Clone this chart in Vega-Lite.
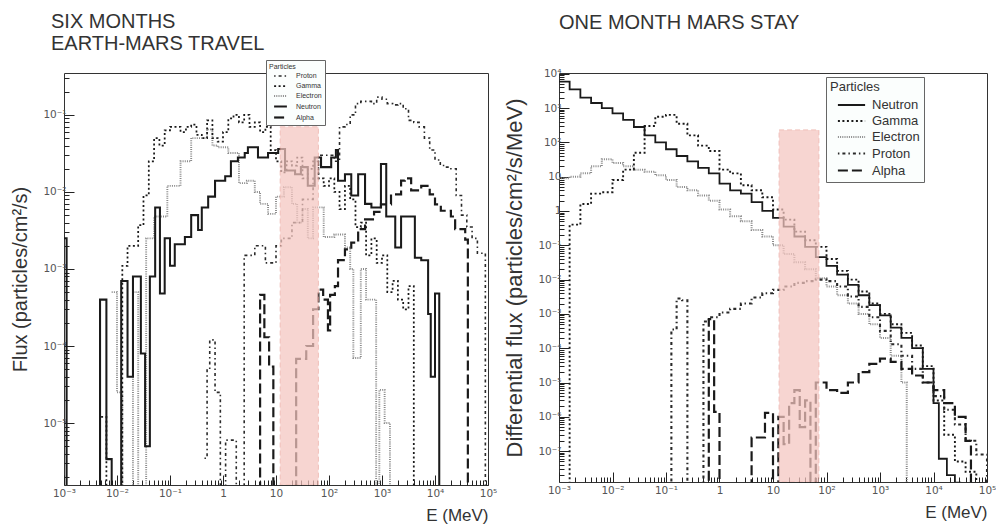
{
  "$schema": "https://vega.github.io/schema/vega-lite/v6.json",
  "padding": {"left": 10, "top": 11, "right": 0, "bottom": 0},
  "config": {
    "font": "Liberation Sans",
    "view": {"stroke": "#333", "strokeWidth": 1},
    "axis": {"grid": false, "domain": false, "tickColor": "#222", "labelColor": "#555", "labelFont": "DejaVu Sans", "labelFontSize": 10.5, "titleFontWeight": "normal", "titleColor": "#333", "labelFlush": false, "labelOverlap": false},
    "title": {"fontSize": 20, "fontWeight": "normal", "color": "#333", "anchor": "start", "frame": "group", "lineHeight": 22},
    "legend": {"titleFontWeight": "normal", "titleColor": "#333", "labelColor": "#333", "strokeColor": "#666", "fillColor": "#fbfefd"}
  },
  "datasets": {
    "left": [
      {"p":"Electron","e":0.00794,"f":5e-4},{"p":"Electron","e":0.01,"f":2.5e-5},{"p":"Electron","e":0.0126,"f":1e-10},{"p":"Electron","e":0.02,"f":5e-4},{"p":"Electron","e":0.0251,"f":1e-10},{"p":"Electron","e":0.0355,"f":2.5e-3},{"p":"Electron","e":0.0501,"f":4.8e-3},{"p":"Electron","e":0.0794,"f":4.8e-3},{"p":"Electron","e":0.0891,"f":1.2e-2},{"p":"Electron","e":0.126,"f":1.2e-2},{"p":"Electron","e":0.158,"f":2.5e-2},{"p":"Electron","e":0.2,"f":2.5e-2},{"p":"Electron","e":0.251,"f":5e-2},{"p":"Electron","e":0.398,"f":5e-2},{"p":"Electron","e":0.501,"f":6.5e-2},{"p":"Electron","e":0.631,"f":4e-2},{"p":"Electron","e":0.794,"f":3.8e-2},{"p":"Electron","e":1.26,"f":3.2e-2},{"p":"Electron","e":2,"f":1.3e-2},{"p":"Electron","e":2.82,"f":1.4e-2},{"p":"Electron","e":3.98,"f":1e-2},{"p":"Electron","e":5.01,"f":7e-3},{"p":"Electron","e":7.08,"f":5.2e-3},{"p":"Electron","e":10,"f":8.7e-3},{"p":"Electron","e":14.1,"f":1.15e-2},{"p":"Electron","e":20,"f":7e-3},{"p":"Electron","e":25.1,"f":4e-3},{"p":"Electron","e":31.6,"f":6e-3},{"p":"Electron","e":39.8,"f":2.5e-3},{"p":"Electron","e":50.1,"f":6.3e-3},{"p":"Electron","e":79.4,"f":2.6e-3},{"p":"Electron","e":126,"f":2.8e-3},{"p":"Electron","e":200,"f":1.9e-3},{"p":"Electron","e":251,"f":1e-3},{"p":"Electron","e":288,"f":7e-5},{"p":"Electron","e":398,"f":1e-3},{"p":"Electron","e":501,"f":4e-4},{"p":"Electron","e":776,"f":1e-10},{"p":"Electron","e":891,"f":2.7e-5},{"p":"Electron","e":1122,"f":1e-5},{"p":"Electron","e":1413,"f":1e-10},
      {"p":"Neutron","e":0.001,"f":2.5e-3},{"p":"Neutron","e":0.00112,"f":1e-10},{"p":"Neutron","e":0.00479,"f":4e-4},{"p":"Neutron","e":0.00631,"f":3.4e-6},{"p":"Neutron","e":0.00794,"f":1e-10},{"p":"Neutron","e":0.012,"f":7e-4},{"p":"Neutron","e":0.0158,"f":4e-5},{"p":"Neutron","e":0.02,"f":8e-4},{"p":"Neutron","e":0.0282,"f":8e-5},{"p":"Neutron","e":0.0339,"f":5e-6},{"p":"Neutron","e":0.0417,"f":8e-4},{"p":"Neutron","e":0.0525,"f":6.3e-3},{"p":"Neutron","e":0.0646,"f":4.8e-4},{"p":"Neutron","e":0.0794,"f":2.5e-3},{"p":"Neutron","e":0.1,"f":1.1e-3},{"p":"Neutron","e":0.123,"f":2.1e-3},{"p":"Neutron","e":0.191,"f":2.6e-3},{"p":"Neutron","e":0.251,"f":5e-3},{"p":"Neutron","e":0.339,"f":3.2e-3},{"p":"Neutron","e":0.398,"f":6.3e-3},{"p":"Neutron","e":0.525,"f":8.7e-3},{"p":"Neutron","e":0.708,"f":1.4e-2},{"p":"Neutron","e":1.1,"f":1.6e-2},{"p":"Neutron","e":1.41,"f":2.5e-2},{"p":"Neutron","e":1.91,"f":2.8e-2},{"p":"Neutron","e":2.57,"f":3.2e-2},{"p":"Neutron","e":2.95,"f":3.8e-2},{"p":"Neutron","e":4.57,"f":2.8e-2},{"p":"Neutron","e":7.08,"f":3.2e-2},{"p":"Neutron","e":11,"f":3.6e-2},{"p":"Neutron","e":14.8,"f":1.9e-2},{"p":"Neutron","e":22.9,"f":1.7e-2},{"p":"Neutron","e":29.5,"f":2.1e-2},{"p":"Neutron","e":39.8,"f":1.2e-2},{"p":"Neutron","e":53.7,"f":2.8e-2},{"p":"Neutron","e":70.8,"f":2.1e-2},{"p":"Neutron","e":110,"f":2.8e-2},{"p":"Neutron","e":135,"f":3.5e-2},{"p":"Neutron","e":148,"f":1.4e-2},{"p":"Neutron","e":200,"f":1.7e-2},{"p":"Neutron","e":263,"f":9e-3},{"p":"Neutron","e":355,"f":1.7e-2},{"p":"Neutron","e":479,"f":7e-3},{"p":"Neutron","e":631,"f":6.3e-3},{"p":"Neutron","e":955,"f":2.3e-2},{"p":"Neutron","e":1202,"f":4.8e-3},{"p":"Neutron","e":1778,"f":1.9e-3},{"p":"Neutron","e":2291,"f":4.8e-3},{"p":"Neutron","e":4169,"f":1.4e-3},{"p":"Neutron","e":5495,"f":1.3e-3},{"p":"Neutron","e":7413,"f":2.6e-4},{"p":"Neutron","e":8318,"f":4e-5},{"p":"Neutron","e":10000,"f":4.8e-4},{"p":"Neutron","e":12023,"f":1e-10},
      {"p":"Gamma","e":0.00501,"f":1.2e-5},{"p":"Gamma","e":0.00631,"f":1e-10},{"p":"Gamma","e":0.0126,"f":1.1e-3},{"p":"Gamma","e":0.0158,"f":2e-3},{"p":"Gamma","e":0.0251,"f":3.7e-3},{"p":"Gamma","e":0.0316,"f":9e-3},{"p":"Gamma","e":0.0398,"f":2.5e-2},{"p":"Gamma","e":0.0501,"f":5e-2},{"p":"Gamma","e":0.0631,"f":4e-2},{"p":"Gamma","e":0.0794,"f":6.3e-2},{"p":"Gamma","e":0.1,"f":7e-2},{"p":"Gamma","e":0.158,"f":6e-2},{"p":"Gamma","e":0.2,"f":7e-2},{"p":"Gamma","e":0.251,"f":7.5e-2},{"p":"Gamma","e":0.316,"f":5.5e-2},{"p":"Gamma","e":0.398,"f":5e-2},{"p":"Gamma","e":0.501,"f":8.5e-2},{"p":"Gamma","e":0.631,"f":5e-2},{"p":"Gamma","e":0.794,"f":4.5e-2},{"p":"Gamma","e":1,"f":6e-2},{"p":"Gamma","e":1.26,"f":9e-2},{"p":"Gamma","e":1.58,"f":1e-1},{"p":"Gamma","e":2,"f":8e-2},{"p":"Gamma","e":2.51,"f":1e-1},{"p":"Gamma","e":3.16,"f":7e-2},{"p":"Gamma","e":3.98,"f":8e-2},{"p":"Gamma","e":5.01,"f":6e-2},{"p":"Gamma","e":6.31,"f":7e-2},{"p":"Gamma","e":7.94,"f":3.5e-2},{"p":"Gamma","e":10,"f":2.5e-2},{"p":"Gamma","e":12.6,"f":1.8e-2},{"p":"Gamma","e":15.8,"f":2.5e-2},{"p":"Gamma","e":20,"f":2.2e-2},{"p":"Gamma","e":25.1,"f":2.8e-2},{"p":"Gamma","e":31.6,"f":1.5e-2},{"p":"Gamma","e":39.8,"f":2e-2},{"p":"Gamma","e":50.1,"f":2.5e-2},{"p":"Gamma","e":63.1,"f":1.5e-2},{"p":"Gamma","e":79.4,"f":1.2e-2},{"p":"Gamma","e":100,"f":1.5e-2},{"p":"Gamma","e":126,"f":1e-2},{"p":"Gamma","e":158,"f":6e-3},{"p":"Gamma","e":200,"f":1.2e-2},{"p":"Gamma","e":251,"f":8e-3},{"p":"Gamma","e":316,"f":3.5e-3},{"p":"Gamma","e":398,"f":4e-3},{"p":"Gamma","e":501,"f":1.5e-3},{"p":"Gamma","e":631,"f":2.5e-3},{"p":"Gamma","e":794,"f":1.2e-3},{"p":"Gamma","e":1000,"f":1.5e-3},{"p":"Gamma","e":1259,"f":5e-4},{"p":"Gamma","e":1585,"f":7e-4},{"p":"Gamma","e":1995,"f":4e-4},{"p":"Gamma","e":2512,"f":3e-4},{"p":"Gamma","e":3162,"f":6e-4},{"p":"Gamma","e":3981,"f":1e-10},
      {"p":"Proton","e":0.447,"f":3.5e-6},{"p":"Proton","e":0.501,"f":5e-5},{"p":"Proton","e":0.562,"f":1.2e-4},{"p":"Proton","e":0.708,"f":2.5e-5},{"p":"Proton","e":0.891,"f":1e-10},{"p":"Proton","e":1.12,"f":6e-6},{"p":"Proton","e":1.78,"f":1e-10},{"p":"Proton","e":2.51,"f":1.5e-3},{"p":"Proton","e":3.98,"f":2e-3},{"p":"Proton","e":6.31,"f":1.2e-3},{"p":"Proton","e":10,"f":2e-3},{"p":"Proton","e":12.6,"f":2.5e-3},{"p":"Proton","e":20,"f":4e-3},{"p":"Proton","e":31.6,"f":8e-3},{"p":"Proton","e":50.1,"f":1.5e-2},{"p":"Proton","e":63.1,"f":3e-2},{"p":"Proton","e":100,"f":3e-2},{"p":"Proton","e":126,"f":2.5e-2},{"p":"Proton","e":158,"f":7e-2},{"p":"Proton","e":200,"f":7.5e-2},{"p":"Proton","e":251,"f":1e-1},{"p":"Proton","e":316,"f":1.4e-1},{"p":"Proton","e":398,"f":1.5e-1},{"p":"Proton","e":501,"f":1.5e-1},{"p":"Proton","e":631,"f":1.4e-1},{"p":"Proton","e":794,"f":1.7e-1},{"p":"Proton","e":1000,"f":1.6e-1},{"p":"Proton","e":1259,"f":1.4e-1},{"p":"Proton","e":1585,"f":1.35e-1},{"p":"Proton","e":1995,"f":1.4e-1},{"p":"Proton","e":2512,"f":1.2e-1},{"p":"Proton","e":3162,"f":8.5e-2},{"p":"Proton","e":3981,"f":8e-2},{"p":"Proton","e":5012,"f":7e-2},{"p":"Proton","e":6310,"f":5e-2},{"p":"Proton","e":7943,"f":3.5e-2},{"p":"Proton","e":10000,"f":2.6e-2},{"p":"Proton","e":12589,"f":2.2e-2},{"p":"Proton","e":15849,"f":2.1e-2},{"p":"Proton","e":19953,"f":2e-2},{"p":"Proton","e":25119,"f":9e-3},{"p":"Proton","e":31623,"f":5e-3},{"p":"Proton","e":39811,"f":3.5e-3},{"p":"Proton","e":50119,"f":2.5e-3},{"p":"Proton","e":63096,"f":1.6e-3},{"p":"Proton","e":89125,"f":1e-10},
      {"p":"Alpha","e":3.98,"f":1e-10},{"p":"Alpha","e":5.01,"f":4.6e-4},{"p":"Alpha","e":6.03,"f":1.3e-4},{"p":"Alpha","e":7.41,"f":5.4e-5},{"p":"Alpha","e":8.91,"f":1e-10},{"p":"Alpha","e":24,"f":6.8e-5},{"p":"Alpha","e":37.2,"f":1e-4},{"p":"Alpha","e":50.1,"f":3e-4},{"p":"Alpha","e":63.1,"f":5.4e-4},{"p":"Alpha","e":77.6,"f":4e-4},{"p":"Alpha","e":95.5,"f":1.6e-4},{"p":"Alpha","e":105,"f":4.6e-4},{"p":"Alpha","e":129,"f":6e-4},{"p":"Alpha","e":148,"f":1.3e-3},{"p":"Alpha","e":200,"f":1.8e-3},{"p":"Alpha","e":263,"f":2.2e-3},{"p":"Alpha","e":355,"f":3.3e-3},{"p":"Alpha","e":479,"f":4.4e-3},{"p":"Alpha","e":708,"f":5.5e-3},{"p":"Alpha","e":955,"f":6.9e-3},{"p":"Alpha","e":1479,"f":9.3e-3},{"p":"Alpha","e":2291,"f":1.4e-2},{"p":"Alpha","e":2692,"f":1.5e-2},{"p":"Alpha","e":3548,"f":1.05e-2},{"p":"Alpha","e":5495,"f":1.2e-2},{"p":"Alpha","e":7943,"f":9.3e-3},{"p":"Alpha","e":10000,"f":6.9e-3},{"p":"Alpha","e":12882,"f":5.7e-3},{"p":"Alpha","e":19953,"f":4.8e-3},{"p":"Alpha","e":23988,"f":3.3e-3},{"p":"Alpha","e":37154,"f":2.4e-3},{"p":"Alpha","e":41687,"f":1e-10}
    ],
    "right": [
      {"p":"Electron","e":0.001,"f":9},{"p":"Electron","e":0.00158,"f":10},{"p":"Electron","e":0.00251,"f":12.5},{"p":"Electron","e":0.00398,"f":20},{"p":"Electron","e":0.00631,"f":32},{"p":"Electron","e":0.01,"f":25},{"p":"Electron","e":0.0158,"f":20},{"p":"Electron","e":0.0251,"f":16},{"p":"Electron","e":0.0398,"f":14},{"p":"Electron","e":0.0631,"f":11},{"p":"Electron","e":0.1,"f":8},{"p":"Electron","e":0.158,"f":5},{"p":"Electron","e":0.251,"f":4},{"p":"Electron","e":0.398,"f":2.8},{"p":"Electron","e":0.631,"f":2},{"p":"Electron","e":1,"f":1.1},{"p":"Electron","e":1.58,"f":0.7},{"p":"Electron","e":2.51,"f":0.5},{"p":"Electron","e":3.98,"f":0.28},{"p":"Electron","e":6.31,"f":0.18},{"p":"Electron","e":10,"f":0.1},{"p":"Electron","e":15.8,"f":0.056},{"p":"Electron","e":25.1,"f":0.032},{"p":"Electron","e":39.8,"f":0.02},{"p":"Electron","e":63.1,"f":0.011},{"p":"Electron","e":100,"f":0.0063},{"p":"Electron","e":158,"f":0.0035},{"p":"Electron","e":251,"f":0.002},{"p":"Electron","e":398,"f":0.001},{"p":"Electron","e":631,"f":5e-4},{"p":"Electron","e":1000,"f":2e-4},{"p":"Electron","e":1585,"f":6e-5},{"p":"Electron","e":2512,"f":1e-5},{"p":"Electron","e":3162,"f":1e-10},
      {"p":"Neutron","e":0.001,"f":5900},{"p":"Neutron","e":0.00158,"f":3500},{"p":"Neutron","e":0.00251,"f":2000},{"p":"Neutron","e":0.00398,"f":1400},{"p":"Neutron","e":0.00631,"f":1000},{"p":"Neutron","e":0.01,"f":700},{"p":"Neutron","e":0.0158,"f":450},{"p":"Neutron","e":0.0251,"f":280},{"p":"Neutron","e":0.0398,"f":160},{"p":"Neutron","e":0.0631,"f":100},{"p":"Neutron","e":0.1,"f":63},{"p":"Neutron","e":0.158,"f":40},{"p":"Neutron","e":0.251,"f":28},{"p":"Neutron","e":0.398,"f":18},{"p":"Neutron","e":0.631,"f":12.5},{"p":"Neutron","e":1,"f":6.3},{"p":"Neutron","e":1.58,"f":4},{"p":"Neutron","e":2.51,"f":3.2},{"p":"Neutron","e":3.98,"f":1.8},{"p":"Neutron","e":6.31,"f":1.0},{"p":"Neutron","e":10,"f":0.63},{"p":"Neutron","e":15.8,"f":0.35},{"p":"Neutron","e":25.1,"f":0.18},{"p":"Neutron","e":39.8,"f":0.09},{"p":"Neutron","e":63.1,"f":0.045},{"p":"Neutron","e":100,"f":0.025},{"p":"Neutron","e":158,"f":0.014},{"p":"Neutron","e":251,"f":0.007},{"p":"Neutron","e":398,"f":0.0035},{"p":"Neutron","e":631,"f":0.0018},{"p":"Neutron","e":1000,"f":9e-4},{"p":"Neutron","e":1585,"f":4e-4},{"p":"Neutron","e":2512,"f":2e-4},{"p":"Neutron","e":3981,"f":1e-4},{"p":"Neutron","e":6310,"f":2.5e-5},{"p":"Neutron","e":10000,"f":2.5e-6},{"p":"Neutron","e":12589,"f":6e-8},{"p":"Neutron","e":17783,"f":2e-8},{"p":"Neutron","e":25119,"f":1.2e-8},{"p":"Neutron","e":31623,"f":1e-10},
      {"p":"Gamma","e":0.001,"f":1e-10},{"p":"Gamma","e":0.00158,"f":0.4},{"p":"Gamma","e":0.00251,"f":1.6},{"p":"Gamma","e":0.00398,"f":3.2},{"p":"Gamma","e":0.00631,"f":3.5},{"p":"Gamma","e":0.01,"f":8},{"p":"Gamma","e":0.0158,"f":16},{"p":"Gamma","e":0.0251,"f":50},{"p":"Gamma","e":0.0398,"f":300},{"p":"Gamma","e":0.0631,"f":560},{"p":"Gamma","e":0.1,"f":630},{"p":"Gamma","e":0.158,"f":350},{"p":"Gamma","e":0.251,"f":160},{"p":"Gamma","e":0.398,"f":80},{"p":"Gamma","e":0.631,"f":56},{"p":"Gamma","e":1,"f":16},{"p":"Gamma","e":1.58,"f":12.5},{"p":"Gamma","e":2.51,"f":5.6},{"p":"Gamma","e":3.98,"f":4},{"p":"Gamma","e":6.31,"f":2.5},{"p":"Gamma","e":10,"f":1.1},{"p":"Gamma","e":15.8,"f":0.56},{"p":"Gamma","e":25.1,"f":0.25},{"p":"Gamma","e":39.8,"f":0.14},{"p":"Gamma","e":63.1,"f":0.09},{"p":"Gamma","e":100,"f":0.04},{"p":"Gamma","e":158,"f":0.018},{"p":"Gamma","e":251,"f":0.01},{"p":"Gamma","e":398,"f":0.0045},{"p":"Gamma","e":631,"f":0.002},{"p":"Gamma","e":1000,"f":1e-3},{"p":"Gamma","e":1585,"f":5e-4},{"p":"Gamma","e":2512,"f":2.8e-4},{"p":"Gamma","e":3981,"f":1.2e-4},{"p":"Gamma","e":6310,"f":3e-5},{"p":"Gamma","e":10000,"f":3e-6},{"p":"Gamma","e":15849,"f":3e-7},{"p":"Gamma","e":25119,"f":5e-8},{"p":"Gamma","e":39811,"f":2.5e-8},{"p":"Gamma","e":63096,"f":1e-10},
      {"p":"Proton","e":0.1,"f":1e-10},{"p":"Proton","e":0.126,"f":3.5e-4},{"p":"Proton","e":0.158,"f":2.8e-3},{"p":"Proton","e":0.2,"f":2.5e-3},{"p":"Proton","e":0.251,"f":1e-10},{"p":"Proton","e":0.501,"f":6e-4},{"p":"Proton","e":0.631,"f":8e-4},{"p":"Proton","e":1,"f":1.1e-3},{"p":"Proton","e":1.58,"f":1.4e-3},{"p":"Proton","e":2.51,"f":2e-3},{"p":"Proton","e":3.98,"f":3e-3},{"p":"Proton","e":6.31,"f":4e-3},{"p":"Proton","e":10,"f":5e-3},{"p":"Proton","e":15.8,"f":6.3e-3},{"p":"Proton","e":25.1,"f":8e-3},{"p":"Proton","e":39.8,"f":9e-3},{"p":"Proton","e":63.1,"f":1e-2},{"p":"Proton","e":100,"f":9e-3},{"p":"Proton","e":158,"f":6.3e-3},{"p":"Proton","e":251,"f":3.2e-3},{"p":"Proton","e":398,"f":1.6e-3},{"p":"Proton","e":631,"f":8e-4},{"p":"Proton","e":1000,"f":3.2e-4},{"p":"Proton","e":1585,"f":1.3e-4},{"p":"Proton","e":2512,"f":6e-5},{"p":"Proton","e":3981,"f":2.5e-5},{"p":"Proton","e":6310,"f":1e-5},{"p":"Proton","e":10000,"f":4e-6},{"p":"Proton","e":15849,"f":1.6e-6},{"p":"Proton","e":25119,"f":6e-7},{"p":"Proton","e":39811,"f":2e-7},{"p":"Proton","e":63096,"f":8e-8},{"p":"Proton","e":100000,"f":1e-10},
      {"p":"Alpha","e":0.398,"f":1e-10},{"p":"Alpha","e":0.631,"f":7e-4},{"p":"Alpha","e":0.794,"f":1.4e-6},{"p":"Alpha","e":1,"f":1e-10},{"p":"Alpha","e":3.98,"f":2.5e-7},{"p":"Alpha","e":7.08,"f":1.3e-6},{"p":"Alpha","e":10,"f":1e-10},{"p":"Alpha","e":12.6,"f":1e-6},{"p":"Alpha","e":15.8,"f":1.6e-7},{"p":"Alpha","e":20,"f":2.5e-6},{"p":"Alpha","e":25.1,"f":6e-6},{"p":"Alpha","e":31.6,"f":5e-7},{"p":"Alpha","e":39.8,"f":3e-6},{"p":"Alpha","e":50.1,"f":1e-10},{"p":"Alpha","e":63.1,"f":1e-5},{"p":"Alpha","e":100,"f":6e-6},{"p":"Alpha","e":158,"f":5e-6},{"p":"Alpha","e":251,"f":1e-5},{"p":"Alpha","e":398,"f":2e-5},{"p":"Alpha","e":631,"f":3.5e-5},{"p":"Alpha","e":1000,"f":5e-5},{"p":"Alpha","e":1585,"f":4e-5},{"p":"Alpha","e":2512,"f":2.5e-5},{"p":"Alpha","e":3981,"f":1.6e-5},{"p":"Alpha","e":6310,"f":1e-5},{"p":"Alpha","e":10000,"f":6e-6},{"p":"Alpha","e":15849,"f":2.5e-6},{"p":"Alpha","e":25119,"f":1e-6},{"p":"Alpha","e":39811,"f":2e-7},{"p":"Alpha","e":50119,"f":1e-10}
    ]
  },
  "concat": [
    {
      "title": {"text": ["SIX MONTHS", "EARTH-MARS TRAVEL"], "dx": -13, "offset": 6},
      "width": 424,
      "height": 412,
      "layer": [
        {
          "data": {"name": "left"},
          "mark": {"type": "line", "interpolate": "step-after", "clip": true},
          "encoding": {
            "x": {"field": "e", "type": "quantitative", "scale": {"type": "log", "domain": [0.001, 100000], "nice": false},
              "axis": {"title": "E (MeV)", "titleAnchor": "end", "titleFontSize": 17, "titlePadding": 4, "labelPadding": 13,
                "values": [0.001,0.002,0.003,0.004,0.005,0.006,0.007,0.008,0.009,0.01,0.02,0.03,0.04,0.05,0.06,0.07,0.08,0.09,0.1,0.2,0.3,0.4,0.5,0.6,0.7,0.8,0.9,1,2,3,4,5,6,7,8,9,10,20,30,40,50,60,70,80,90,100,200,300,400,500,600,700,800,900,1000,2000,3000,4000,5000,6000,7000,8000,9000,10000,20000,30000,40000,50000,60000,70000,80000,90000,100000],
                "labelExpr": "abs(log(datum.value)/LN10 - round(log(datum.value)/LN10)) > 0.01 ? '' : datum.value < 0.005 ? '10⁻³' : datum.value < 0.05 ? '10⁻²' : datum.value < 0.5 ? '10⁻¹' : datum.value < 5 ? '1' : datum.value < 50 ? '10' : datum.value < 500 ? '10²' : datum.value < 5000 ? '10³' : datum.value < 50000 ? '10⁴' : '10⁵'",
                "tickSize": {"condition": {"test": "abs(log(datum.value)/LN10 - round(log(datum.value)/LN10)) < 0.01", "value": -10}, "value": -5}}},
            "y": {"field": "f", "type": "quantitative", "scale": {"type": "log", "domain": [1.57e-6, 0.35], "nice": false},
              "axis": {"title": "Flux (particles/cm²/s)", "titleFontSize": 20, "titlePadding": 12, "labelPadding": 8,
                "values": [2e-6,3e-6,4e-6,5e-6,6e-6,7e-6,8e-6,9e-6,1e-5,2e-5,3e-5,4e-5,5e-5,6e-5,7e-5,8e-5,9e-5,1e-4,2e-4,3e-4,4e-4,5e-4,6e-4,7e-4,8e-4,9e-4,0.001,0.002,0.003,0.004,0.005,0.006,0.007,0.008,0.009,0.01,0.02,0.03,0.04,0.05,0.06,0.07,0.08,0.09,0.1,0.2,0.3],
                "labelExpr": "abs(log(datum.value)/LN10 - round(log(datum.value)/LN10)) > 0.01 ? '' : datum.value < 5e-5 ? '10⁻⁵' : datum.value < 5e-4 ? '10⁻⁴' : datum.value < 5e-3 ? '10⁻³' : datum.value < 5e-2 ? '10⁻²' : '10⁻¹'",
                "tickSize": {"condition": {"test": "abs(log(datum.value)/LN10 - round(log(datum.value)/LN10)) < 0.01", "value": -10}, "value": -5}}},
            "color": {"field": "p", "type": "nominal", "scale": {"domain": ["Proton", "Gamma", "Electron", "Neutron", "Alpha"], "range": ["#2a2a2a", "#1a1a1a", "#8a8a8a", "#1a1a1a", "#1a1a1a"]},
              "legend": {"orient": "none", "legendX": 202, "legendY": -13, "title": "Particles", "titleFontSize": 7, "labelFontSize": 7, "symbolType": "M-1.6,0H1.6", "symbolSize": 64, "symbolOffset": 6, "labelOffset": 10, "padding": 3, "rowPadding": 1, "titlePadding": 1}},
            "strokeDash": {"field": "p", "type": "nominal", "scale": {"domain": ["Proton", "Gamma", "Electron", "Neutron", "Alpha"], "range": [[1.5, 3, 3, 3], [2, 2.5], [1, 1.2], [1, 0], [10, 4]]},
              "legend": {"orient": "none", "legendX": 202, "legendY": -13, "title": "Particles", "titleFontSize": 7, "labelFontSize": 7, "symbolType": "M-1.6,0H1.6", "symbolSize": 64, "symbolOffset": 6, "labelOffset": 10, "padding": 3, "rowPadding": 1, "titlePadding": 1}},
            "strokeWidth": {"field": "p", "type": "nominal", "scale": {"domain": ["Proton", "Gamma", "Electron", "Neutron", "Alpha"], "range": [1.6, 2.2, 1.1, 1.8, 2]},
              "legend": {"orient": "none", "legendX": 202, "legendY": -13, "title": "Particles", "titleFontSize": 7, "labelFontSize": 7, "symbolType": "M-1.6,0H1.6", "symbolSize": 64, "symbolOffset": 6, "labelOffset": 10, "padding": 3, "rowPadding": 1, "titlePadding": 1}}
          }
        },
        {
          "data": {"values": [{"x1": 12, "x2": 63, "y1": 1.57e-6, "y2": 0.07}]},
          "mark": {"type": "rect", "fill": "#f5c6c0", "opacity": 0.72, "stroke": "#eba79f", "strokeDash": [5, 3], "strokeWidth": 1, "clip": true},
          "encoding": {
            "x": {"field": "x1", "type": "quantitative", "title": "E (MeV)"},
            "x2": {"field": "x2"},
            "y": {"field": "y1", "type": "quantitative", "title": "Flux (particles/cm²/s)"},
            "y2": {"field": "y2"}
          }
        }
      ]
    },
    {
      "title": {"text": "ONE MONTH MARS STAY", "offset": 36},
      "width": 428,
      "height": 409,
      "layer": [
        {
          "data": {"name": "right"},
          "mark": {"type": "line", "interpolate": "step-after", "clip": true},
          "encoding": {
            "x": {"field": "e", "type": "quantitative", "scale": {"type": "log", "domain": [0.001, 100000], "nice": false},
              "axis": {"title": "E (MeV)", "titleAnchor": "end", "titleFontSize": 17, "titlePadding": 4, "labelPadding": 13,
                "values": [0.001,0.002,0.003,0.004,0.005,0.006,0.007,0.008,0.009,0.01,0.02,0.03,0.04,0.05,0.06,0.07,0.08,0.09,0.1,0.2,0.3,0.4,0.5,0.6,0.7,0.8,0.9,1,2,3,4,5,6,7,8,9,10,20,30,40,50,60,70,80,90,100,200,300,400,500,600,700,800,900,1000,2000,3000,4000,5000,6000,7000,8000,9000,10000,20000,30000,40000,50000,60000,70000,80000,90000,100000],
                "labelExpr": "abs(log(datum.value)/LN10 - round(log(datum.value)/LN10)) > 0.01 ? '' : datum.value < 0.005 ? '10⁻³' : datum.value < 0.05 ? '10⁻²' : datum.value < 0.5 ? '10⁻¹' : datum.value < 5 ? '1' : datum.value < 50 ? '10' : datum.value < 500 ? '10²' : datum.value < 5000 ? '10³' : datum.value < 50000 ? '10⁴' : '10⁵'",
                "tickSize": {"condition": {"test": "abs(log(datum.value)/LN10 - round(log(datum.value)/LN10)) < 0.01", "value": -10}, "value": -5}}},
            "y": {"field": "f", "type": "quantitative", "scale": {"type": "log", "domain": [1.26e-8, 10500], "nice": false},
              "axis": {"title": "Differential flux (particles/cm²/s/MeV)", "titleFontSize": 22, "titlePadding": 11, "labelPadding": 8,
                "values": [2e-8,3e-8,4e-8,5e-8,6e-8,7e-8,8e-8,9e-8,1e-7,2e-7,3e-7,4e-7,5e-7,6e-7,7e-7,8e-7,9e-7,1e-6,2e-6,3e-6,4e-6,5e-6,6e-6,7e-6,8e-6,9e-6,1e-5,2e-5,3e-5,4e-5,5e-5,6e-5,7e-5,8e-5,9e-5,1e-4,2e-4,3e-4,4e-4,5e-4,6e-4,7e-4,8e-4,9e-4,0.001,0.002,0.003,0.004,0.005,0.006,0.007,0.008,0.009,0.01,0.02,0.03,0.04,0.05,0.06,0.07,0.08,0.09,0.1,0.2,0.3,0.4,0.5,0.6,0.7,0.8,0.9,1,2,3,4,5,6,7,8,9,10,20,30,40,50,60,70,80,90,100,200,300,400,500,600,700,800,900,1000,2000,3000,4000,5000,6000,7000,8000,9000,10000],
                "labelExpr": "abs(log(datum.value)/LN10 - round(log(datum.value)/LN10)) > 0.01 ? '' : datum.value < 5e-7 ? '10⁻⁷' : datum.value < 5e-6 ? '10⁻⁶' : datum.value < 5e-5 ? '10⁻⁵' : datum.value < 5e-4 ? '10⁻⁴' : datum.value < 5e-3 ? '10⁻³' : datum.value < 5e-2 ? '10⁻²' : datum.value < 0.5 ? '10⁻¹' : datum.value < 5 ? '1' : datum.value < 50 ? '10' : datum.value < 500 ? '10²' : datum.value < 5000 ? '10³' : '10⁴'",
                "tickSize": {"condition": {"test": "abs(log(datum.value)/LN10 - round(log(datum.value)/LN10)) < 0.01", "value": -10}, "value": -5}}},
            "color": {"field": "p", "type": "nominal", "scale": {"domain": ["Neutron", "Gamma", "Electron", "Proton", "Alpha"], "range": ["#1a1a1a", "#1a1a1a", "#8a8a8a", "#2a2a2a", "#1a1a1a"]},
              "legend": {"orient": "none", "legendX": 267, "legendY": 4, "title": "Particles", "titleFontSize": 13, "labelFontSize": 13, "symbolType": "M-1.7,0H1.7", "symbolSize": 256, "symbolOffset": 12, "labelOffset": 11, "padding": 4, "rowPadding": 0, "titlePadding": 2}},
            "strokeDash": {"field": "p", "type": "nominal", "scale": {"domain": ["Neutron", "Gamma", "Electron", "Proton", "Alpha"], "range": [[1, 0], [2, 2.5], [1, 1.2], [1.5, 3, 3, 3], [10, 4]]},
              "legend": {"orient": "none", "legendX": 267, "legendY": 4, "title": "Particles", "titleFontSize": 13, "labelFontSize": 13, "symbolType": "M-1.7,0H1.7", "symbolSize": 256, "symbolOffset": 12, "labelOffset": 11, "padding": 4, "rowPadding": 0, "titlePadding": 2}},
            "strokeWidth": {"field": "p", "type": "nominal", "scale": {"domain": ["Neutron", "Gamma", "Electron", "Proton", "Alpha"], "range": [1.8, 2.2, 1.1, 1.6, 2]},
              "legend": {"orient": "none", "legendX": 267, "legendY": 4, "title": "Particles", "titleFontSize": 13, "labelFontSize": 13, "symbolType": "M-1.7,0H1.7", "symbolSize": 256, "symbolOffset": 12, "labelOffset": 11, "padding": 4, "rowPadding": 0, "titlePadding": 2}}
          }
        },
        {
          "data": {"values": [{"x1": 13, "x2": 72, "y1": 1.26e-8, "y2": 230}]},
          "mark": {"type": "rect", "fill": "#f5c6c0", "opacity": 0.72, "stroke": "#eba79f", "strokeDash": [5, 3], "strokeWidth": 1, "clip": true},
          "encoding": {
            "x": {"field": "x1", "type": "quantitative", "title": "E (MeV)"},
            "x2": {"field": "x2"},
            "y": {"field": "y1", "type": "quantitative", "title": "Differential flux (particles/cm²/s/MeV)"},
            "y2": {"field": "y2"}
          }
        }
      ]
    }
  ],
  "columns": 2,
  "spacing": 5,
  "align": "none",
  "resolve": {
    "scale": {"color": "independent", "strokeDash": "independent", "strokeWidth": "independent"},
    "legend": {"color": "independent", "strokeDash": "independent", "strokeWidth": "independent"}
  }
}
